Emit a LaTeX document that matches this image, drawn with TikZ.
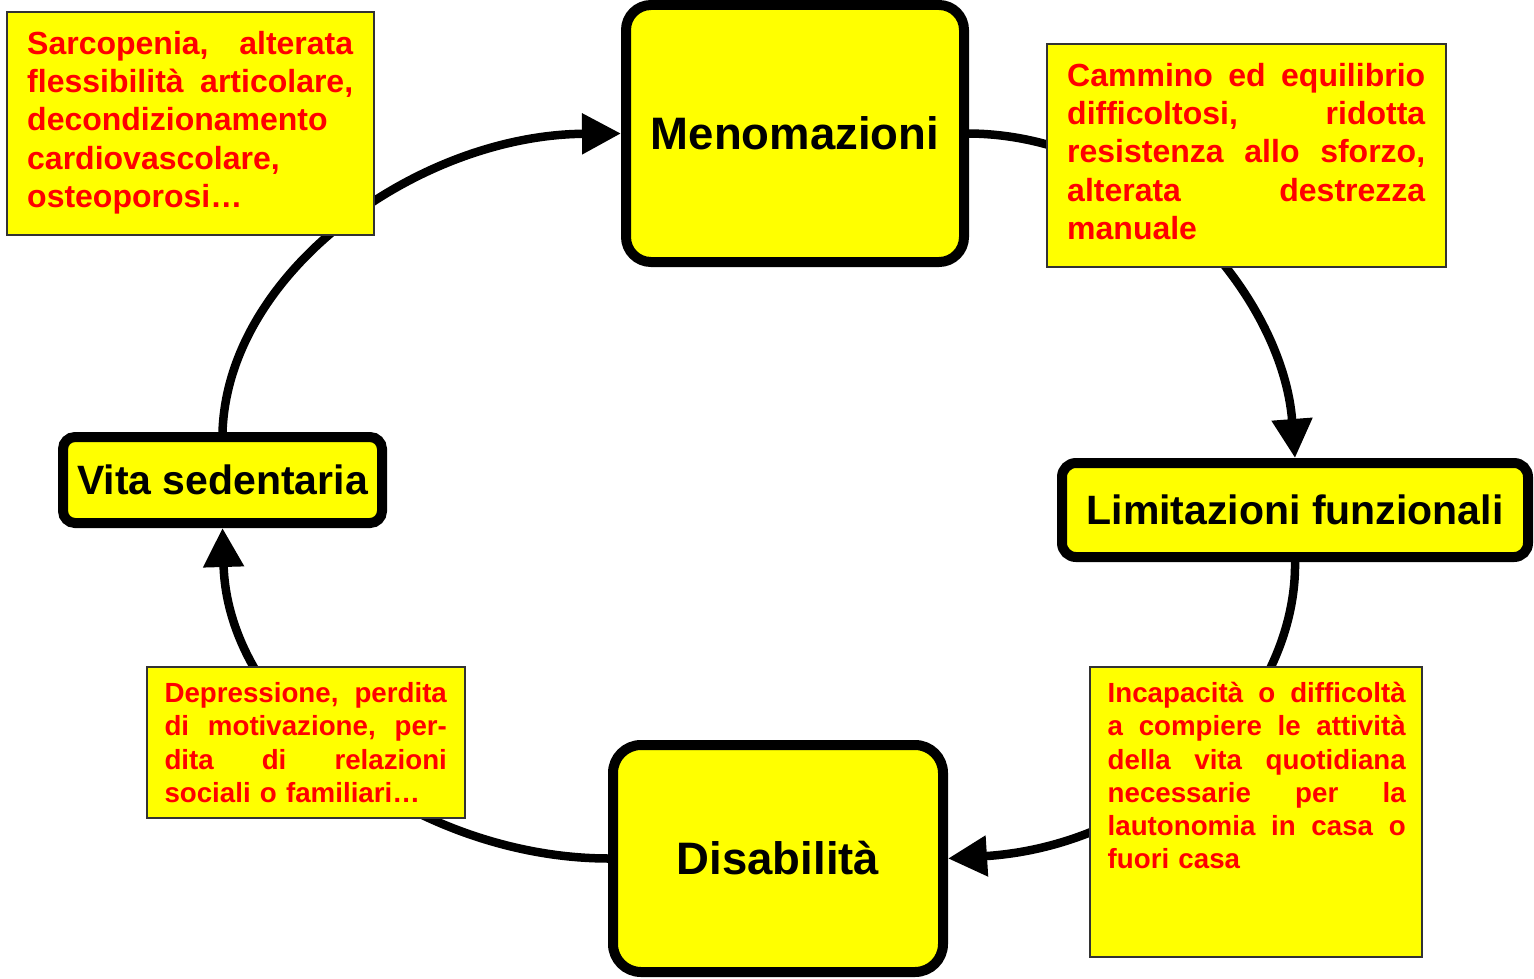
\documentclass[tikz,border=0pt]{standalone}
\usepackage{fontspec}
\setmainfont{Liberation Sans}
\usetikzlibrary{arrows.meta}
\definecolor{boxyellow}{RGB}{255,255,0}
\definecolor{txtred}{RGB}{255,0,0}
\definecolor{boxgray}{RGB}{51,51,51}
\newcommand\jl[1]{\leavevmode\hbox to\linewidth{#1}}
\begin{document}
\begin{tikzpicture}[x=1pt,y=-1pt,
  mainbox/.style={draw=black, line width=10pt, fill=boxyellow, rounded corners=#1, inner sep=0pt, align=center},
  bigfont/.style={font=\bfseries\fontsize{45.5pt}{50pt}\selectfont},
  midfont/.style={font=\bfseries\fontsize{41pt}{46pt}\selectfont},
  conn/.style={line width=8.5pt, -{Triangle[length=39pt,width=39pt]}},
  tbox/.style={draw=boxgray, line width=2pt, fill=boxyellow, inner sep=0pt},
  ttext/.style={text=txtred, inner sep=0pt, anchor=base west, align=left},
  tfontA/.style={font=\bfseries\fontsize{32pt}{38.3pt}\selectfont},
  tfontB/.style={font=\bfseries\fontsize{27.7pt}{33.2pt}\selectfont}]
\useasboundingbox (0,0) rectangle (1534,979);
\fill[white] (0,0) rectangle (1534,979);

% main boxes
\node[mainbox=25pt, bigfont, minimum width=338pt, minimum height=257pt] (meno) at (795,133.5) {Menomazioni};
\node[mainbox=14pt, midfont, minimum width=466pt, minimum height=94pt] (limit) at (1295,510) {Limitazioni funzionali};
\node[mainbox=12pt, midfont, minimum width=319pt, minimum height=86pt] (vita) at (222.5,480) {Vita sedentaria};
\node[mainbox=28pt, bigfont, minimum width=330pt, minimum height=227pt] (disab) at (778,858.5) {Disabilità};

% connectors
\draw[conn] (vita.north) .. controls (228,270) and (420,135) .. (meno.west);
\draw[conn] (meno.east) .. controls (1150,135) and (1283,300) .. (limit.north);
\draw[conn] (limit.south) .. controls (1297,700) and (1160,845) .. (disab.east);
\draw[conn] (disab.west) .. controls (420,858) and (228,720) .. (vita.south);

% text boxes
\node[tbox, minimum width=367pt, minimum height=223pt] (tlbox) at (190.5,123.5) {};
\node[ttext, tfontA, text width=326pt] (tltext) at (27,54.3)
  {\jl{Sarcopenia,\hfill alterata}\\
   \jl{flessibilità\hfill articolare,}\\
   decondizionamento\\
   cardiovascolare,\\
   osteoporosi…};

\node[tbox, minimum width=399pt, minimum height=223pt] (trbox) at (1246.5,155.5) {};
\node[ttext, tfontA, text width=358pt] (trtext) at (1067,86.3)
  {\jl{Cammino\hfill ed\hfill equilibrio}\\
   \jl{difficoltosi,\hfill ridotta}\\
   \jl{resistenza\hfill allo\hfill sforzo,}\\
   \jl{alterata\hfill destrezza}\\
   manuale};

\node[tbox, minimum width=332pt, minimum height=290pt] (brbox) at (1256,812) {};
\node[ttext, tfontB, text width=298pt] (brtext) at (1107.5,702.7)
  {\jl{Incapacità\hfill o\hfill difficoltà}\\
   \jl{a\hfill compiere\hfill le\hfill attività}\\
   \jl{della\hfill vita\hfill quotidiana}\\
   \jl{necessarie\hfill per\hfill la}\\
   \jl{lautonomia\hfill in\hfill casa\hfill o}\\
   fuori casa};

\node[tbox, minimum width=318pt, minimum height=151pt] (blbox) at (306,742.5) {};
\node[ttext, tfontB, text width=282.4pt] (bltext) at (164.3,702.7)
  {\jl{Depressione,\hfill perdita}\\
   \jl{di\hfill motivazione,\hfill per-}\\
   \jl{dita\hfill di\hfill relazioni}\\
   sociali o familiari…};
\end{tikzpicture}
\end{document}
